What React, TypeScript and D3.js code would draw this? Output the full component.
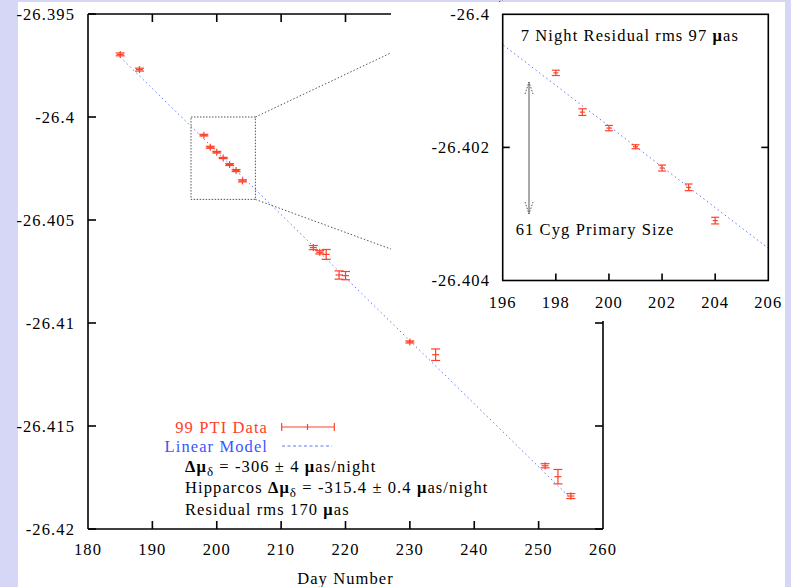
import React from "react";
import * as d3 from "d3";

// ---- data ----
const days = [185, 188, 198, 199, 200, 201, 202, 203, 204, 215, 216, 217, 219, 220, 230, 234, 251, 253, 255];
const values = [
  -26.39696, -26.3977, -26.40088, -26.40147, -26.40171, -26.40199, -26.40231, -26.4026, -26.4031,
  -26.40634, -26.40657, -26.40667, -26.40767, -26.4077, -26.41092, -26.41154, -26.41693, -26.41746, -26.4184,
];
const errors = [
  0.00007, 0.00007, 0.00004, 0.00005, 0.00004, 0.00003, 0.000045, 0.00005, 0.00005,
  0.0001, 0.00008, 0.00024, 0.0002, 0.0002, 0.00005, 0.00028, 0.0001, 0.00035, 0.00012,
];
const modelDays = [185, 255];
const modelValues = [-26.39709, -26.41851];

const mainXTicks = [180, 190, 200, 210, 220, 230, 240, 250, 260];
const mainYTicks = [-26.395, -26.4, -26.405, -26.41, -26.415, -26.42];
const mainYLabels = ["-26.395", "-26.4", "-26.405", "-26.41", "-26.415", "-26.42"];
const insetXTicks = [196, 198, 200, 202, 204, 206];
const insetYTicks = [-26.4, -26.402, -26.404];
const insetYLabels = ["-26.4", "-26.402", "-26.404"];
const zoomDays = [196, 206];
const zoomValues = [-26.404, -26.4];

const RED = "#ff4028";
const BLUE = "#3a55ff";
const LINEBLUE = "#5a78ff";
const FONT = "'Liberation Serif', 'Times New Roman', serif";

export default function App() {
  const W = 791, H = 587;
  const xM = d3.scaleLinear().domain([180, 260]).range([88, 603]);
  const yM = d3.scaleLinear().domain([-26.42, -26.395]).range([529, 14]);
  const xI = d3.scaleLinear().domain([196, 206]).range([502.7, 768.3]);
  const yI = d3.scaleLinear().domain([-26.404, -26.4]).range([280.5, 14.3]);

  const pts = days.map((d, i) => ({ d, v: values[i], e: errors[i] }));
  const lineM = d3.line<number>().x((_, i) => xM(modelDays[i])).y((_, i) => yM(modelValues[i]));
  const lineI = d3.line<number>().x((_, i) => xI(modelDays[i])).y((_, i) => yI(modelValues[i]));

  const errBar = (x: number, y: number, y1: number, y2: number, key: string, cap = 4, mk = 3) => (
    <g key={key} stroke={RED} strokeWidth={1.2} fill="none">
      <line x1={x} x2={x} y1={Math.min(y1, y - mk)} y2={Math.max(y2, y + mk)} />
      <line x1={x - cap} x2={x + cap} y1={y1} y2={y1} />
      <line x1={x - cap} x2={x + cap} y1={y2} y2={y2} />
      <line x1={x - mk} x2={x + mk} y1={y} y2={y} />
    </g>
  );

  const textStyle = { fontFamily: FONT, fontSize: 16.5, letterSpacing: "1.1px" } as React.CSSProperties;

  const zx1 = xM(zoomDays[0]), zx2 = xM(zoomDays[1]);
  const zy1 = yM(zoomValues[1]), zy2 = yM(zoomValues[0]);

  return (
    <svg width={W} height={H} style={{ position: "absolute", left: 0, top: 0 }}>
      <rect x={0} y={0} width={W} height={H} fill="#d6d6f7" />
      <rect x={18} y={2} width={767} height={H - 2} fill="#ffffff" />

      <defs>
        <clipPath id="clipI">
          <rect x={xI(196)} y={yI(-26.4)} width={xI(206) - xI(196)} height={yI(-26.404) - yI(-26.4)} />
        </clipPath>
      </defs>

      {/* ---------- main plot ---------- */}
      <path d={lineM(modelDays) || ""} stroke={LINEBLUE} strokeWidth={1} strokeDasharray="1.5,3" fill="none" />

      <rect x={zx1} y={zy1} width={zx2 - zx1} height={zy2 - zy1} fill="none" stroke="#555" strokeWidth={1} strokeDasharray="1.5,1.5" />
      <line x1={zx2} y1={zy1} x2={xI(196)} y2={0} stroke="#555" strokeWidth={1} strokeDasharray="1.5,2" />
      <line x1={zx2} y1={zy2} x2={xI(196)} y2={290} stroke="#555" strokeWidth={1} strokeDasharray="1.5,2" />

      {pts.map((p, i) => errBar(xM(p.d), yM(p.v), yM(p.v + p.e), yM(p.v - p.e), "m" + i, 4.5, 3.5))}

      <g stroke="#000" strokeWidth={1.6} fill="none">
        <line x1={88} x2={88} y1={14} y2={529} />
        <line x1={88} x2={603} y1={529} y2={529} />
        <line x1={603} x2={603} y1={14} y2={529} />
        <line x1={88} x2={603} y1={14} y2={14} />
        {mainXTicks.slice(1, -1).map((t) => (
          <g key={"xt" + t}>
            <line x1={xM(t)} x2={xM(t)} y1={529} y2={521} />
            <line x1={xM(t)} x2={xM(t)} y1={14} y2={22} />
          </g>
        ))}
        {mainYTicks.map((t) => (
          <g key={"yt" + t}>
            <line x1={88} x2={96} y1={yM(t)} y2={yM(t)} />
            <line x1={603} x2={595} y1={yM(t)} y2={yM(t)} />
          </g>
        ))}
      </g>
      {mainXTicks.map((t) => (
        <text key={"xl" + t} x={xM(t)} y={555} textAnchor="middle" style={textStyle} fill="#000">{t}</text>
      ))}
      {mainYTicks.map((t, i) => (
        <text key={"yl" + t} x={75} y={yM(t) + 5.5} textAnchor="end" style={textStyle} fill="#000">{mainYLabels[i]}</text>
      ))}
      <text x={345.5} y={584} textAnchor="middle" style={textStyle} fill="#000">Day Number</text>

      {/* legend */}
      <text x={268} y={432.5} textAnchor="end" style={textStyle} fill={RED}>99 PTI Data</text>
      <g stroke={RED} strokeWidth={1.2}>
        <line x1={281.7} x2={334.3} y1={427} y2={427} />
        <line x1={281.7} x2={281.7} y1={423} y2={431} />
        <line x1={334.3} x2={334.3} y1={423} y2={431} />
        <line x1={307.5} x2={307.5} y1={424} y2={430} />
      </g>
      <text x={268} y={451.5} textAnchor="end" style={textStyle} fill={BLUE}>Linear Model</text>
      <line x1={282} x2={332} y1={446} y2={446} stroke={LINEBLUE} strokeWidth={1} strokeDasharray="3,2.5" />

      <text x={185} y={472} style={textStyle} fill="#000">
        <tspan fontWeight="bold">Δμ</tspan>
        <tspan fontSize={13} dy={4}>δ</tspan>
        <tspan dy={-4}> = -306 ± 4 </tspan>
        <tspan fontWeight="bold">μ</tspan>
        <tspan>as/night</tspan>
      </text>
      <text x={185} y={492.5} style={textStyle} fill="#000">
        <tspan>Hipparcos </tspan>
        <tspan fontWeight="bold">Δμ</tspan>
        <tspan fontSize={13} dy={4}>δ</tspan>
        <tspan dy={-4}> = -315.4 ± 0.4 </tspan>
        <tspan fontWeight="bold">μ</tspan>
        <tspan>as/night</tspan>
      </text>
      <text x={185} y={515} style={textStyle} fill="#000">
        <tspan>Residual rms 170 </tspan>
        <tspan fontWeight="bold">μ</tspan>
        <tspan>as</tspan>
      </text>

      {/* ---------- inset ---------- */}
      <rect x={391} y={2} width={394} height={319} fill="#ffffff" />

      <path d={lineI(modelDays) || ""} stroke={LINEBLUE} strokeWidth={1} strokeDasharray="1.5,3" fill="none" clipPath="url(#clipI)" />
      {pts
        .filter((p) => p.d >= 196 && p.d <= 206)
        .map((p, i) => errBar(xI(p.d), yI(p.v), yI(p.v + p.e), yI(p.v - p.e), "i" + i, 4, 2.5))}

      <g stroke="#000" strokeWidth={1.6} fill="none">
        <rect x={xI(196)} y={yI(-26.4)} width={xI(206) - xI(196)} height={yI(-26.404) - yI(-26.4)} />
        {insetXTicks.slice(1, -1).map((t) => (
          <line key={"ixt" + t} x1={xI(t)} x2={xI(t)} y1={yI(-26.404)} y2={yI(-26.404) - 7} />
        ))}
        <line x1={xI(196)} x2={xI(196) + 7} y1={yI(-26.402)} y2={yI(-26.402)} />
        <line x1={xI(206)} x2={xI(206) - 7} y1={yI(-26.402)} y2={yI(-26.402)} />
      </g>
      {insetXTicks.map((t) => (
        <text key={"ixl" + t} x={xI(t)} y={307.5} textAnchor="middle" style={textStyle} fill="#000">{t}</text>
      ))}
      {insetYTicks.map((t, i) => (
        <text key={"iyl" + t} x={490} y={yI(t) + 5.5} textAnchor="end" style={textStyle} fill="#000">{insetYLabels[i]}</text>
      ))}

      <text x={520.7} y={40.5} style={textStyle} fill="#000">
        <tspan>7 Night Residual rms 97 </tspan>
        <tspan fontWeight="bold">μ</tspan>
        <tspan>as</tspan>
      </text>
      <text x={515.7} y={234.5} style={textStyle} fill="#000">61 Cyg Primary Size</text>

      <g stroke="#555" strokeWidth={1} fill="none">
        <line x1={529} x2={529} y1={82} y2={214} />
        <path d="M525,94 L529,82 L533,94" strokeDasharray="1.5,1.5" />
        <path d="M525,202 L529,214 L533,202" strokeDasharray="1.5,1.5" />
      </g>
    </svg>
  );
}
